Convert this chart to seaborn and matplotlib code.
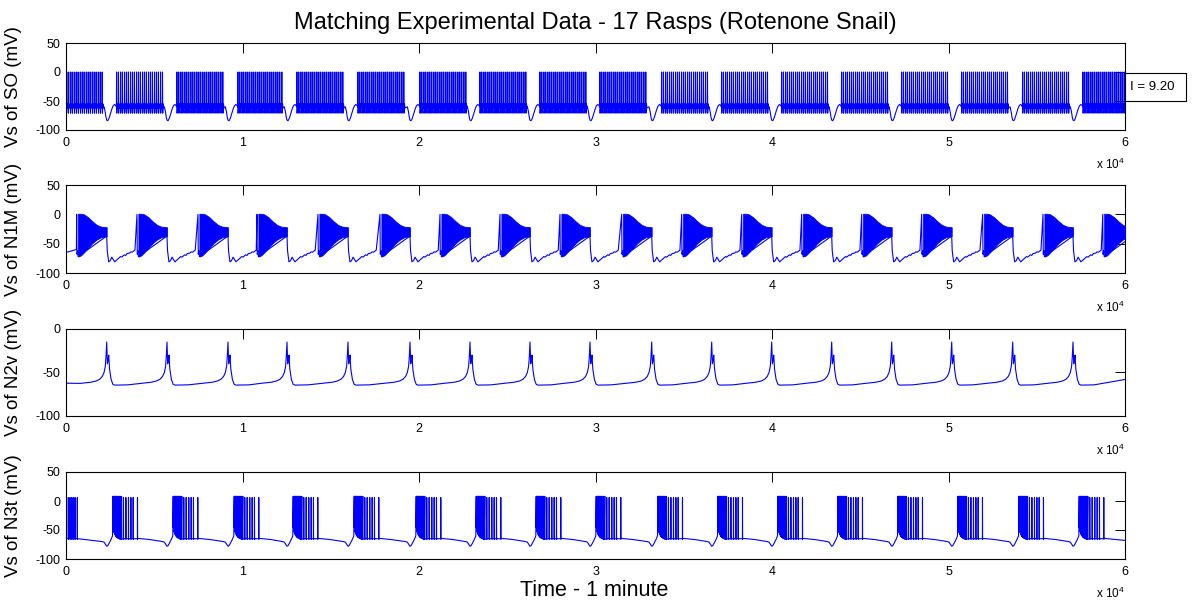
import matplotlib
matplotlib.use("Agg")
import matplotlib.pyplot as plt
from matplotlib.patches import Rectangle
import numpy as np
import pandas as pd
import seaborn as sns

# ---------------------------------------------------------------- data (ms / mV)
# times of the 17 rasps: SO hyperpolarising dip and N2v spike
rasp_ms = [2306, 5722, 9178, 12521, 15977, 19490, 22890, 26289, 29688,
           33184, 36584, 39983, 43382, 46782, 50181, 53637, 57054]
t_end_ms = 60000

# SO: spike times inside one burst (ms from burst start)
so_spike_ms = [0, 105, 225, 330, 450, 560, 670, 790, 900, 1010, 1130, 1240,
               1350, 1470, 1580, 1690, 1810, 1920, 2030, 2150, 2260, 2370,
               2490, 2600]
so_spike_shape_ms = [-10, 0, 12, 40, 70]
so_spike_shape_mv = [-60, 0, -71, -55, -62]
# SO dip around each rasp (ms from rasp)
so_dip_ms = [-150, -90, -40, 0, 60, 130, 210, 290, 370, 450, 520]
so_dip_mv = [-60, -68, -78, -83, -84, -80, -72, -64, -58, -56, -58]
so_burst_lag_ms = 560      # burst restarts after the dip
so_burst_stop_ms = 150     # burst stops before the dip

# N1M: burst onsets (ms)
n1m_onset_ms = [606, 4022, 7478, 10821, 14277, 17790, 21190, 24589, 27988,
                31484, 34884, 38283, 41682, 45082, 48481, 51937, 55354, 58740]
n1m_burst_len_ms = 1700
n1m_start_mv = [-65, -60]
n1m_onset_spike_ms = [-20, 0, 15, 60]
n1m_onset_spike_mv = [-60, 0, -68, -62]
n1m_band_lag_ms = 80
# envelope of the fast oscillation band (fraction of band length)
n1m_env_phase = [0, 0.1, 0.2, 0.35, 0.5, 0.65, 0.8, 1.0]
n1m_env_top = [1, 1, 0, -5, -12, -18, -21, -22]
n1m_env_bottom = [-72, -70, -65, -57, -49, -43, -39, -37]
# repolarised phase after each burst (ms from burst end)
n1m_post_ms = [0, 30, 110, 200, 290, 370, 450, 560, 700, 780, 850, 1000,
               1080, 1150, 1300, 1360, 1450, 1600]
n1m_post_mv = [-37, -62, -81, -79, -73, -77, -81, -78, -74, -72, -73, -69,
               -70, -67, -66, -64, -64.5, -61]

# N2v: spike around each rasp (ms from rasp)
n2v_spike_ms = [-1500, -900, -600, -400, -250, -150, -80, -40, 0, 40, 80,
                115, 160, 250, 350, 450, 1200]
n2v_spike_mv = [-62.5, -61.2, -59.8, -57.8, -54.5, -50, -43, -32, -15, -40,
                -36, -30, -46, -58, -63.5, -64.5, -64.2]
n2v_start_mv = -62.3
n2v_end_mv = -58

# N3t: dip before each burst (ms from rasp)
n3t_dip_ms = [-250, -150, -60, 0, 60, 150, 250, 330]
n3t_dip_mv = [-70, -71, -75, -78, -77, -72, -66, -60]
n3t_onset_lag_ms = 350
# dense spikes at the burst start (ms from onset) and their troughs
n3t_dense_ms = [0, 22, 45, 68, 92, 117, 142, 168, 195, 222, 250, 280, 310,
                342, 375, 410, 448, 490]
n3t_dense_trough_mv = [-46, -50, -53, -55, -57, -58.5, -60, -61, -62, -63,
                       -63.5, -64, -64.5, -65, -65.5, -66, -66, -66]
n3t_dense_peak_mv = 8
# sparse spikes later in the burst (ms from onset)
n3t_sparse_ms = [600, 737, 884, 1020, 1150, 1394]
n3t_sparse_shape_ms = [-5, 0, 8, 20]
n3t_sparse_shape_mv = [-65, 6, -66, -65]
# slow decline after the burst (ms from onset)
n3t_tail_ms = [1450, 2100]
n3t_tail_mv = [-64.5, -66.5]
n3t_initial_spike_ms = [130, 227, 323, 413, 510, 640]
n3t_end_mv = -68

x_ticks = [0, 10000, 20000, 30000, 40000, 50000, 60000]
x_tick_labels = ["0", "1", "2", "3", "4", "5", "6"]
panel_labels = ["Vs of SO (mV)", "Vs of N1M (mV)", "Vs of N2v (mV)", "Vs of N3t (mV)"]
panel_ylims = [(-100, 50), (-100, 50), (-100, 0), (-100, 50)]
panel_yticks = [[-100, -50, 0, 50], [-100, -50, 0, 50], [-100, -50, 0], [-100, -50, 0, 50]]
title = "Matching Experimental Data - 17 Rasps (Rotenone Snail)"
x_label = "Time - 1 minute"
current_label = "I = 9.20"


# ---------------------------------------------------------------- traces
def add(t, v, times, values, origin=0.0):
    for dt, mv in zip(times, values):
        t.append(origin + dt)
        v.append(mv)


def so_trace():
    t, v = [], []
    starts = [20] + [r + so_burst_lag_ms for r in rasp_ms]
    stops = [r - so_burst_stop_ms for r in rasp_ms] + [t_end_ms + 500]
    for k, (a, b) in enumerate(zip(starts, stops)):
        for s in so_spike_ms:
            if a + s + 70 > b:
                break
            add(t, v, so_spike_shape_ms, so_spike_shape_mv, a + s)
        if k < len(rasp_ms):
            add(t, v, so_dip_ms, so_dip_mv, rasp_ms[k])
    return t, v


def n1m_trace(ax):
    t, v = [0, n1m_onset_ms[0] - 20], list(n1m_start_mv)
    for o in n1m_onset_ms:
        add(t, v, n1m_onset_spike_ms[1:], n1m_onset_spike_mv[1:], o)
        a = o + n1m_band_lag_ms
        b = o + n1m_burst_len_ms
        et = [a + p * (b - a) for p in n1m_env_phase]
        ax.fill_between(et, n1m_env_bottom, n1m_env_top, color="#0000ff",
                        lw=0.6, zorder=3)
        t += [a, b]
        v += [n1m_env_bottom[0], n1m_env_bottom[-1]]
        add(t, v, n1m_post_ms, n1m_post_mv, b)
    return t, v


def n2v_trace():
    t, v = [0], [n2v_start_mv]
    for r in rasp_ms:
        add(t, v, n2v_spike_ms, n2v_spike_mv, r)
    t.append(t_end_ms)
    v.append(n2v_end_mv)
    return t, v


def n3t_trace():
    t, v = [0], [-64.5]
    for s in n3t_initial_spike_ms:
        add(t, v, n3t_sparse_shape_ms, n3t_sparse_shape_mv, s)
    for r in rasp_ms:
        add(t, v, n3t_dip_ms, n3t_dip_mv, r)
        o = r + n3t_onset_lag_ms
        for s, tr in zip(n3t_dense_ms, n3t_dense_trough_mv):
            t += [o + s, o + s + 8]
            v += [n3t_dense_peak_mv, tr]
        for s in n3t_sparse_ms:
            add(t, v, n3t_sparse_shape_ms, n3t_sparse_shape_mv, o + s)
        add(t, v, n3t_tail_ms, n3t_tail_mv, o)
    t.append(t_end_ms)
    v.append(n3t_end_mv)
    return t, v


# ---------------------------------------------------------------- figure
sns.set_style("white")
plt.rcParams["font.family"] = ["Liberation Sans", "DejaVu Sans"]
plt.rcParams["mathtext.default"] = "regular"
for key in ("text.color", "axes.labelcolor", "xtick.color", "ytick.color"):
    plt.rcParams[key] = "black"

W, H = 1196, 604
fig = plt.figure(figsize=(W / 100, H / 100), dpi=100)
rows_px = [(43, 130), (185, 273), (329, 416), (472, 559)]
left_px, right_px = 66, 1125

axes = []
for (top, bot) in rows_px:
    ax = fig.add_axes([left_px / W, 1 - bot / H, (right_px - left_px) / W, (bot - top) / H])
    axes.append(ax)

blue = "#0000ff"
lw = 0.8

t, v = so_trace()
sns.lineplot(data=pd.DataFrame({"t": t, "v": v}), x="t", y="v", ax=axes[0],
             estimator=None, sort=False, color=blue, lw=lw)
t, v = n1m_trace(axes[1])
sns.lineplot(data=pd.DataFrame({"t": t, "v": v}), x="t", y="v", ax=axes[1],
             estimator=None, sort=False, color=blue, lw=lw)
t, v = n2v_trace()
sns.lineplot(data=pd.DataFrame({"t": t, "v": v}), x="t", y="v", ax=axes[2],
             estimator=None, sort=False, color=blue, lw=lw)
t, v = n3t_trace()
sns.lineplot(data=pd.DataFrame({"t": t, "v": v}), x="t", y="v", ax=axes[3],
             estimator=None, sort=False, color=blue, lw=lw)

for ax, lab, ylim, yt in zip(axes, panel_labels, panel_ylims, panel_yticks):
    ax.set_xlim(0, t_end_ms)
    ax.set_ylim(*ylim)
    ax.set_xticks(x_ticks)
    ax.set_xticklabels(x_tick_labels)
    ax.set_yticks(yt)
    ax.set_yticklabels([str(y) for y in yt])
    ax.set_xlabel("")
    ax.set_ylabel(lab, fontsize=13.5)
    ax.yaxis.set_label_coords(-44 / (right_px - left_px), 0.5)
    ax.tick_params(direction="in", length=7.5, width=0.7, top=True, right=True,
                   labelsize=9, colors="black")
    ax.tick_params(axis="x", pad=5)
    ax.tick_params(axis="y", pad=4)
    for sp in ax.spines.values():
        sp.set_color("black")
        sp.set_linewidth(0.8)
        sp.set_visible(True)
    ax.grid(False)
    ax.annotate("x 10$^{4}$", xy=(1, 0), xycoords="axes fraction",
                xytext=(0, -25), textcoords="offset points",
                ha="right", va="center", fontsize=8.5)

fig.text(595.5 / W, 1 - 23 / H, title, ha="center", va="center", fontsize=17)
fig.text(594 / W, 1 - 591 / H, x_label, ha="center", va="center", fontsize=15.5)

# current annotation box beside the top panel
fig.add_artist(Rectangle((1125 / W, 1 - 101 / H), 61 / W, 28 / H,
                         transform=fig.transFigure, facecolor="white",
                         edgecolor="black", lw=0.8))
fig.text(1130 / W, 1 - 87 / H, current_label, ha="left", va="center", fontsize=9.5)

fig.savefig("out.png", dpi=100, facecolor="white")
